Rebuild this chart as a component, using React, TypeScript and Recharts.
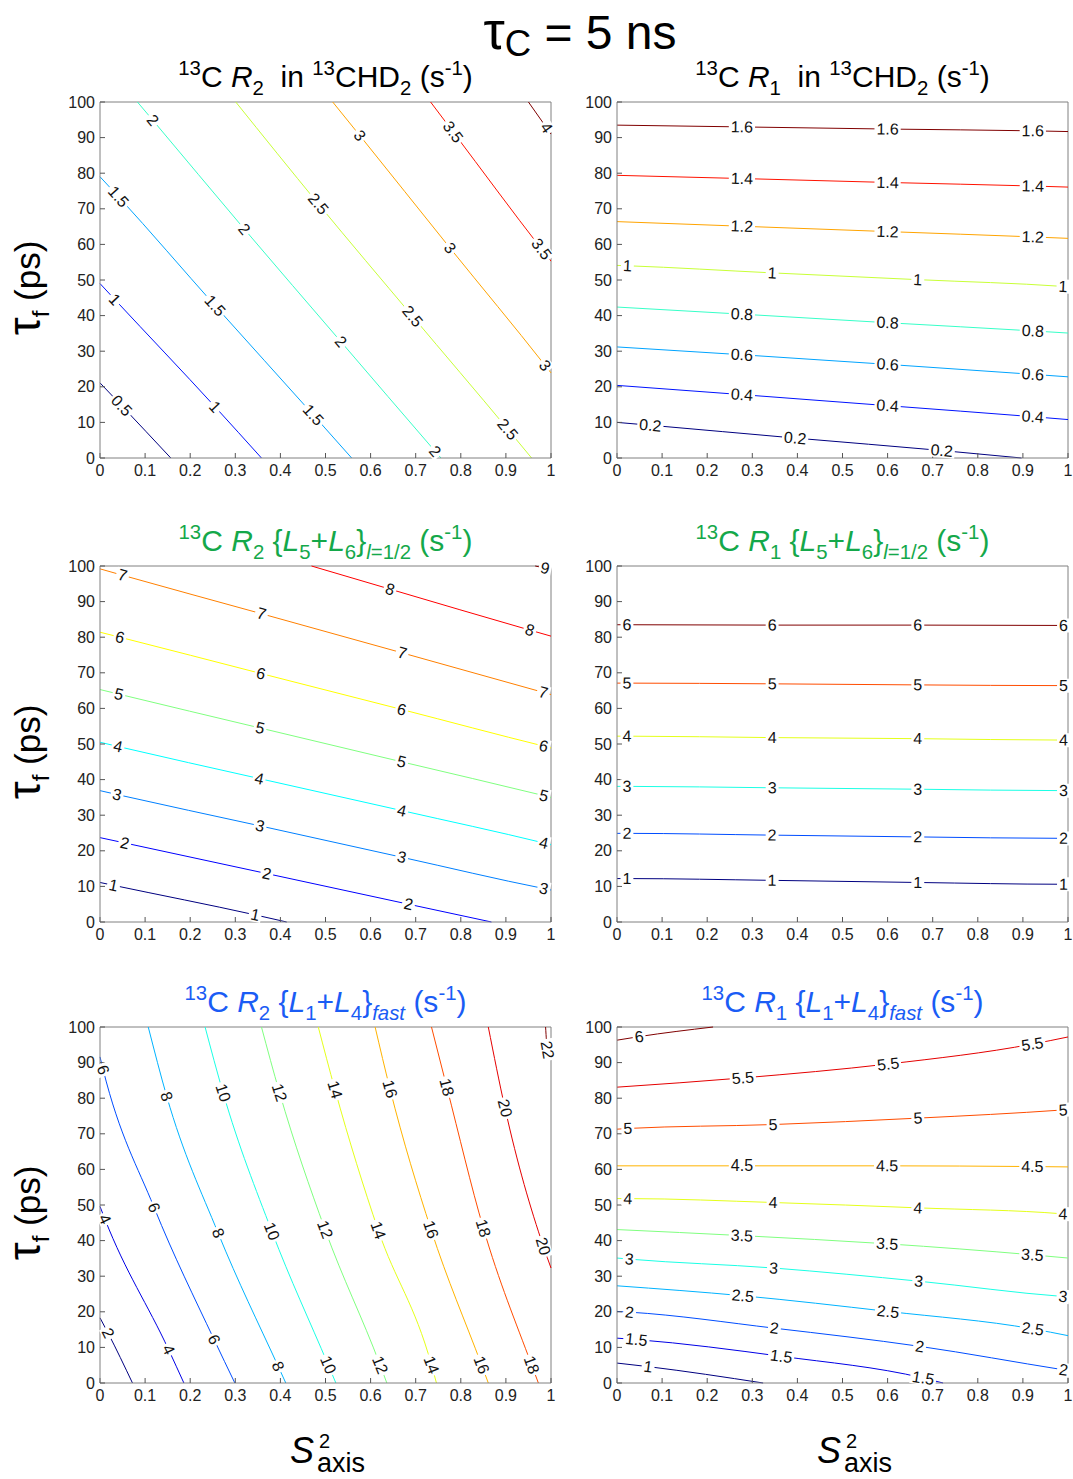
import React from 'react';
import { ComposedChart, Line, XAxis, YAxis, ReferenceLine } from 'recharts';

type Pt = number[]; // [x, y, isLabel?]
type Contour = { v: number; pts: Pt[] };

const X_TICKS = [0, 0.1, 0.2, 0.3, 0.4, 0.5, 0.6, 0.7, 0.8, 0.9, 1];
const Y_TICKS = [0, 10, 20, 30, 40, 50, 60, 70, 80, 90, 100];

// 13C R2 in 13CHD2
const R2_CHD2: Contour[] = [
  { v: 0.5, pts: [[0, 21.1], [0.048, 14.7, 1], [0.157, 0]] },
  { v: 1, pts: [[0, 49], [0.033, 44.5, 1], [0.255, 14.4, 1], [0.358, 0]] },
  { v: 1.5, pts: [[0, 79], [0.041, 73.4, 1], [0.255, 42.8, 1], [0.473, 12.1, 1], [0.558, 0]] },
  { v: 2, pts: [[0.083, 100], [0.117, 94.9, 1], [0.32, 64.3, 1], [0.534, 32.7, 1], [0.743, 1.9, 1], [0.756, 0]] },
  { v: 2.5, pts: [[0.301, 100], [0.484, 71.4, 1], [0.693, 39.8, 1], [0.904, 8.1, 1], [0.957, 0]] },
  { v: 3, pts: [[0.516, 100], [0.576, 90.6, 1], [0.776, 59, 1], [0.987, 26, 1], [1, 23.9]] },
  { v: 3.5, pts: [[0.733, 100], [0.783, 91.6, 1], [0.979, 58.7, 1], [1, 55.3]] },
  { v: 4, pts: [[0.95, 100], [0.99, 92.8, 1], [1, 91]] },
];

// 13C R1 in 13CHD2
const R1_CHD2: Contour[] = [
  { v: 0.2, pts: [[0, 10], [0.074, 9.2, 1], [0.395, 5.6, 1], [0.72, 2.1, 1], [0.897, 0]] },
  { v: 0.4, pts: [[0, 20.4], [0.277, 17.8, 1], [0.6, 14.7, 1], [0.922, 11.6, 1], [1, 10.8]] },
  { v: 0.6, pts: [[0, 31.2], [0.277, 29, 1], [0.6, 26.3, 1], [0.922, 23.5, 1], [1, 22.8]] },
  { v: 0.8, pts: [[0, 42.4], [0.277, 40.4, 1], [0.6, 38, 1], [0.922, 35.7, 1], [1, 35.1]] },
  { v: 1, pts: [[0, 54.1], [0.023, 54, 1], [0.344, 52, 1], [0.667, 50.1, 1], [0.989, 48.2, 1], [1, 48.1]] },
  { v: 1.2, pts: [[0, 66.4], [0.277, 65.1, 1], [0.6, 63.6, 1], [0.922, 62.1, 1], [1, 61.7]] },
  { v: 1.4, pts: [[0, 79.4], [0.277, 78.5, 1], [0.6, 77.4, 1], [0.922, 76.4, 1], [1, 76.1]] },
  { v: 1.6, pts: [[0, 93.5], [0.277, 93, 1], [0.6, 92.4, 1], [0.922, 91.9, 1], [1, 91.7]] },
];

// 13C R2 {L5+L6} l=1/2
const R2_L56: Contour[] = [
  { v: 1, pts: [[0, 11.1], [0.03, 10.3, 1], [0.344, 2, 1], [0.414, 0]] },
  { v: 2, pts: [[0, 23.7], [0.055, 22.2, 1], [0.37, 13.6, 1], [0.684, 5, 1], [0.868, 0]] },
  { v: 3, pts: [[0, 36.9], [0.038, 35.8, 1], [0.355, 27, 1], [0.669, 18.2, 1], [0.984, 9.4, 1], [1, 9]] },
  { v: 4, pts: [[0, 50.5], [0.04, 49.3, 1], [0.353, 40.3, 1], [0.669, 31.3, 1], [0.984, 22.2, 1], [1, 21.7]] },
  { v: 5, pts: [[0, 65.3], [0.042, 64, 1], [0.355, 54.5, 1], [0.669, 45, 1], [0.984, 35.5, 1], [1, 35]] },
  { v: 6, pts: [[0, 81.4], [0.044, 80, 1], [0.357, 69.8, 1], [0.669, 59.7, 1], [0.984, 49.4, 1], [1, 48.9]] },
  { v: 7, pts: [[0, 99.2], [0.05, 97.4, 1], [0.358, 86.6, 1], [0.67, 75.6, 1], [0.983, 64.5, 1], [1, 63.9]] },
  { v: 8, pts: [[0.469, 100], [0.643, 93.5, 1], [0.953, 82, 1], [1, 80.3]] },
  { v: 9, pts: [[0.965, 100], [0.987, 99.4, 1], [1, 99]] },
];

// 13C R1 {L5+L6} l=1/2
const R1_L56: Contour[] = [
  { v: 1, pts: [[0, 12.2], [0.022, 12.2, 1], [0.344, 11.7, 1], [0.667, 11.1, 1], [0.99, 10.6, 1], [1, 10.6]] },
  { v: 2, pts: [[0, 24.9], [0.022, 24.9, 1], [0.344, 24.4, 1], [0.667, 23.9, 1], [0.99, 23.5, 1], [1, 23.5]] },
  { v: 3, pts: [[0, 38.1], [0.022, 38.1, 1], [0.344, 37.7, 1], [0.667, 37.3, 1], [0.99, 36.9, 1], [1, 36.9]] },
  { v: 4, pts: [[0, 52.2], [0.022, 52.2, 1], [0.344, 51.8, 1], [0.667, 51.5, 1], [0.99, 51.1, 1], [1, 51.1]] },
  { v: 5, pts: [[0, 67.1], [0.022, 67.1, 1], [0.344, 66.9, 1], [0.667, 66.6, 1], [0.99, 66.4, 1], [1, 66.4]] },
  { v: 6, pts: [[0, 83.5], [0.022, 83.5, 1], [0.344, 83.4, 1], [0.667, 83.4, 1], [0.99, 83.3, 1], [1, 83.3]] },
];

// 13C R2 {L1+L4} fast
const R2_L14: Contour[] = [
  { v: 2, pts: [[0, 18.3], [0.018, 14, 1], [0.072, 0]] },
  { v: 4, pts: [[0, 49.6], [0.011, 46, 1], [0.152, 9.4, 1], [0.186, 0]] },
  { v: 6, pts: [[0, 91.6], [0.007, 88, 1], [0.12, 49.3, 1], [0.253, 12.2, 1], [0.299, 0]] },
  { v: 8, pts: [[0.107, 100], [0.148, 80.5, 1], [0.262, 42.1, 1], [0.395, 4.7, 1], [0.412, 0]] },
  { v: 10, pts: [[0.233, 100], [0.273, 81.5, 1], [0.381, 42.6, 1], [0.506, 5.1, 1], [0.523, 0]] },
  { v: 12, pts: [[0.358, 100], [0.398, 81.6, 1], [0.499, 43.1, 1], [0.621, 5.1, 1], [0.636, 0]] },
  { v: 14, pts: [[0.484, 100], [0.521, 82.4, 1], [0.617, 42.9, 1], [0.735, 5.1, 1], [0.746, 0]] },
  { v: 16, pts: [[0.61, 100], [0.643, 82.6, 1], [0.734, 43.1, 1], [0.846, 5.1, 1], [0.861, 0]] },
  { v: 18, pts: [[0.735, 100], [0.769, 83.1, 1], [0.85, 43.5, 1], [0.957, 5.1, 1], [0.972, 0]] },
  { v: 20, pts: [[0.861, 100], [0.898, 77.2, 1], [0.983, 38.4, 1], [1, 32.3]] },
  { v: 22, pts: [[0.988, 100], [0.992, 93.6, 1], [1, 91.3]] },
];

// 13C R1 {L1+L4} fast
const R1_L14: Contour[] = [
  { v: 1, pts: [[0, 5.6], [0.069, 4.6, 1], [0.324, 0]] },
  { v: 1.5, pts: [[0, 12.6], [0.043, 12.2, 1], [0.364, 7.5, 1], [0.679, 1.4, 1], [0.723, 0]] },
  { v: 2, pts: [[0, 20.1], [0.028, 19.9, 1], [0.349, 15.4, 1], [0.671, 10.3, 1], [0.99, 3.7, 1], [1, 3.5]] },
  { v: 2.5, pts: [[0, 27.3], [0.279, 24.5, 1], [0.601, 20.1, 1], [0.922, 15.2, 1], [1, 13.3]] },
  { v: 3, pts: [[0, 35.1], [0.027, 34.8, 1], [0.347, 32.3, 1], [0.669, 28.6, 1], [0.989, 24.3, 1], [1, 24.2]] },
  { v: 3.5, pts: [[0, 43.1], [0.277, 41.4, 1], [0.599, 39.1, 1], [0.921, 36, 1], [1, 35.1]] },
  { v: 4, pts: [[0, 51.8], [0.024, 51.8, 1], [0.346, 50.7, 1], [0.667, 49.2, 1], [0.989, 47.5, 1], [1, 47.3]] },
  { v: 4.5, pts: [[0, 61], [0.277, 61, 1], [0.599, 61, 1], [0.921, 60.8, 1], [1, 60.7]] },
  { v: 5, pts: [[0, 71.3], [0.024, 71.5, 1], [0.346, 72.6, 1], [0.667, 74.4, 1], [0.989, 76.7, 1], [1, 76.8]] },
  { v: 5.5, pts: [[0, 83.1], [0.279, 85.7, 1], [0.601, 89.6, 1], [0.921, 95.2, 1], [1, 97.2]] },
  { v: 6, pts: [[0, 96.3], [0.049, 97.3, 1], [0.213, 100]] },
];

const PW = 451;
const PH = 356;
const COL_X = [100, 617];
const ROW_Y = [102, 566, 1027];
const FONT = 'Liberation Sans, Arial, Helvetica, sans-serif';
const LAB_FS = 16;

function jet(t: number) {
  const c = (v: number) => Math.round(255 * Math.max(0, Math.min(1, v)));
  const r = 1.5 - Math.abs(4 * t - 3);
  const g = 1.5 - Math.abs(4 * t - 2);
  const b = 1.5 - Math.abs(4 * t - 1);
  return `rgb(${c(r)},${c(g)},${c(b)})`;
}

function textWidth(s: string, fs: number) {
  let w = 0;
  for (const ch of s) w += ch === '.' ? 0.278 : 0.556;
  return w * fs;
}

function makeLabel(data: any[]) {
  return (lp: any) => {
    const idx = lp.index;
    const d = data[idx];
    const cx = lp.x ?? lp.viewBox?.x;
    const cy = lp.y ?? lp.viewBox?.y;
    if (!d || !d.lab || cx == null || cy == null) return <g key={'n' + idx} />;
    const w = textWidth(d.lab, LAB_FS) + 4;
    const h = 14;
    return (
      <g key={'l' + idx} transform={`rotate(${d.angle} ${cx} ${cy})`}>
        <rect x={cx - w / 2} y={cy - h / 2} width={w} height={h} fill="#fff" />
        <text
          x={cx}
          y={cy}
          textAnchor="middle"
          dominantBaseline="central"
          fontSize={LAB_FS}
          fontFamily={FONT}
          fill="#111"
        >
          {d.lab}
        </text>
      </g>
    );
  };
}

function Panel({ contours, col, row }: { contours: Contour[]; col: number; row: number }) {
  const vmin = contours[0].v;
  const vmax = contours[contours.length - 1].v;
  const left = COL_X[col];
  const top = ROW_Y[row];
  return (
    <div style={{ position: 'absolute', left: left - 50, top: top - 10 }}>
      <ComposedChart width={PW + 60} height={PH + 40} margin={{ top: 10, right: 10, left: 0, bottom: 0 }}>
        <XAxis
          type="number"
          dataKey="x"
          domain={[0, 1]}
          ticks={X_TICKS}
          interval={0}
          tickFormatter={(v: number) => String(v)}
          height={30}
          tickSize={-5}
          tickMargin={12}
          tick={{ fontSize: 16, fill: '#222', fontFamily: FONT }}
          tickLine={{ stroke: '#555' }}
          axisLine={{ stroke: '#808080' }}
        />
        <YAxis
          type="number"
          dataKey="y"
          domain={[0, 100]}
          ticks={Y_TICKS}
          interval={0}
          width={50}
          tickSize={-5}
          tickMargin={10}
          tick={{ fontSize: 16, fill: '#222', fontFamily: FONT }}
          tickLine={{ stroke: '#555' }}
          axisLine={{ stroke: '#808080' }}
        />
        <ReferenceLine y={100} stroke="#808080" strokeWidth={1} />
        <ReferenceLine x={1} stroke="#808080" strokeWidth={1} />
        {contours.map((c) => {
          const data = c.pts.map((p, i) => {
            let lab: string | null = null;
            let angle = 0;
            if (p[2]) {
              const a = c.pts[Math.max(0, i - 1)];
              const b = c.pts[Math.min(c.pts.length - 1, i + 1)];
              angle = (Math.atan2(-(b[1] - a[1]) * PH / 100, (b[0] - a[0]) * PW) * 180) / Math.PI;
              lab = String(c.v);
            }
            return { x: p[0], y: p[1], lab, angle };
          });
          return (
            <Line
              key={c.v}
              data={data}
              dataKey="y"
              type="monotone"
              stroke={jet((c.v - vmin) / (vmax - vmin))}
              strokeWidth={1}
              dot={false}
              activeDot={false}
              label={makeLabel(data)}
              isAnimationActive={false}
            />
          );
        })}
      </ComposedChart>
    </div>
  );
}

type Seg = { t: string; k?: 'sup' | 'sub'; i?: boolean; s?: number; d?: number };

function rich(segs: Seg[], F: number) {
  let cur = 0;
  return segs.map((s, idx) => {
    const base = s.k === 'sup' ? -0.4 * F : s.k === 'sub' ? 0.25 * F : 0;
    const target = s.d != null ? s.d * F : base;
    const dy = target - cur;
    cur = target;
    const size = (s.k ? 0.68 * F : F) * (s.s ?? 1);
    return (
      <tspan key={idx} dy={dy} fontSize={size} fontStyle={s.i ? 'italic' : 'normal'}>
        {s.t}
      </tspan>
    );
  });
}

const TITLE_CHD2 = (r: string): Seg[] => [
  { t: '13', k: 'sup' }, { t: 'C ' }, { t: 'R', i: true }, { t: r, k: 'sub' }, { t: '  in ' },
  { t: '13', k: 'sup' }, { t: 'CHD' }, { t: '2', k: 'sub' }, { t: ' (s' }, { t: '-1', k: 'sup' }, { t: ')' },
];
const TITLE_L56 = (r: string): Seg[] => [
  { t: '13', k: 'sup' }, { t: 'C ' }, { t: 'R', i: true }, { t: r, k: 'sub' }, { t: ' {' },
  { t: 'L', i: true }, { t: '5', k: 'sub' }, { t: '+' }, { t: 'L', i: true }, { t: '6', k: 'sub' }, { t: '}' },
  { t: 'l', k: 'sub', i: true }, { t: '=1/2', k: 'sub' }, { t: ' (s' }, { t: '-1', k: 'sup' }, { t: ')' },
];
const TITLE_L14 = (r: string): Seg[] => [
  { t: '13', k: 'sup' }, { t: 'C ' }, { t: 'R', i: true }, { t: r, k: 'sub' }, { t: ' {' },
  { t: 'L', i: true }, { t: '1', k: 'sub' }, { t: '+' }, { t: 'L', i: true }, { t: '4', k: 'sub' }, { t: '}' },
  { t: 'fast', k: 'sub', i: true }, { t: ' (s' }, { t: '-1', k: 'sup' }, { t: ')' },
];

const PANELS = [
  { contours: R2_CHD2, col: 0, row: 0, title: TITLE_CHD2('2'), color: '#000' },
  { contours: R1_CHD2, col: 1, row: 0, title: TITLE_CHD2('1'), color: '#000' },
  { contours: R2_L56, col: 0, row: 1, title: TITLE_L56('2'), color: '#14a84a' },
  { contours: R1_L56, col: 1, row: 1, title: TITLE_L56('1'), color: '#14a84a' },
  { contours: R2_L14, col: 0, row: 2, title: TITLE_L14('2'), color: '#1a5cf5' },
  { contours: R1_L14, col: 1, row: 2, title: TITLE_L14('1'), color: '#1a5cf5' },
];

export default function App() {
  return (
    <div style={{ position: 'absolute', left: 0, top: 0, width: 1073, height: 1479, background: '#fff', overflow: 'hidden' }}>
      {PANELS.map((p, i) => (
        <Panel key={i} contours={p.contours} col={p.col} row={p.row} />
      ))}
      <svg width={1073} height={1479} style={{ position: 'absolute', left: 0, top: 0, pointerEvents: 'none' }}>
        <text x={580} y={49} textAnchor="middle" fontFamily={FONT} fill="#000" style={{ whiteSpace: 'pre' }}>
          {rich([{ t: 'τ', s: 1.12 }, { t: 'C', k: 'sub', s: 1.12, d: 0.14 }, { t: ' = 5 ns' }], 48)}
        </text>
        {PANELS.map((p, i) => (
          <text
            key={'t' + i}
            x={COL_X[p.col] + PW / 2}
            y={ROW_Y[p.row] - 15}
            textAnchor="middle"
            fontFamily={FONT}
            fill={p.color}
            style={{ whiteSpace: 'pre' }}
          >
            {rich(p.title, 30)}
          </text>
        ))}
        {ROW_Y.map((y, i) => (
          <text
            key={'y' + i}
            transform={`translate(40 ${y + PH / 2 + 8}) rotate(-90)`}
            textAnchor="middle"
            fontFamily={FONT}
            fill="#000"
            style={{ whiteSpace: 'pre' }}
          >
            {rich([{ t: 'τ', s: 1.3 }, { t: 'f', k: 'sub' }, { t: ' (ps)' }], 35)}
          </text>
        ))}
        {[290, 817].map((x0, i) => (
          <g key={'x' + i} fontFamily={FONT} fill="#000">
            <text x={x0} y={1463} fontSize={36} fontStyle="italic">S</text>
            <text x={x0 + 29} y={1448} fontSize={20}>2</text>
            <text x={x0 + 27} y={1472} fontSize={27}>axis</text>
          </g>
        ))}
      </svg>
    </div>
  );
}
